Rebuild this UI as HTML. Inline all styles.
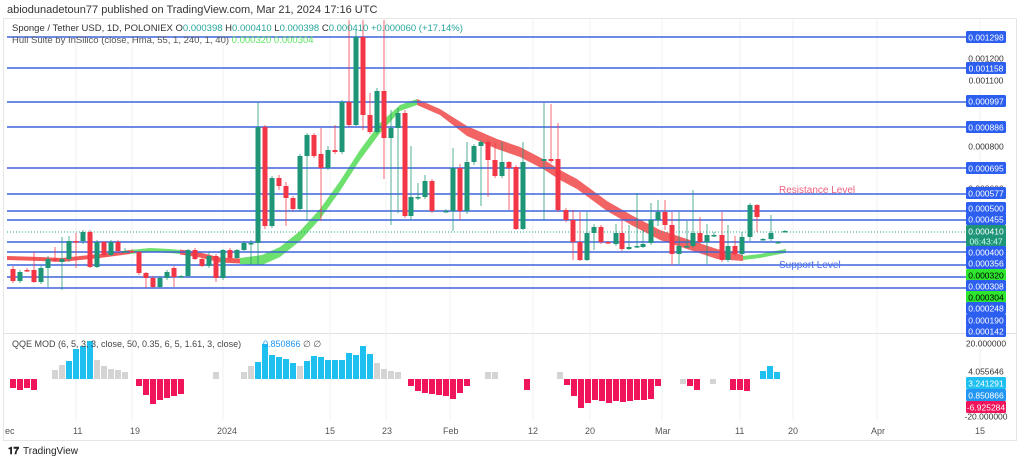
<!DOCTYPE html>
<html><head><meta charset="utf-8"><style>
body{margin:0;background:#fff;width:1024px;height:463px;overflow:hidden;font-family:"Liberation Sans",sans-serif}
svg{position:absolute;left:0;top:0}
</style></head><body>
<svg id="s" width="1024" height="463" xmlns="http://www.w3.org/2000/svg" font-family="Liberation Sans, sans-serif">
<text x="7" y="13" font-size="11" fill="#333">abiodunadetoun77 published on TradingView.com, Mar 21, 2024 17:16 UTC</text>
<rect x="3.5" y="18.5" width="1013" height="422" fill="none" stroke="#e6e6e6"/>
<line x1="4" y1="333.5" x2="1016" y2="333.5" stroke="#e0e0e0"/>
<g id="grid"></g>
<g id="hull"></g>
<g id="lines"></g>
<g id="candles"></g>
<g id="qqe"></g>
<g id="labels"></g>
<text x="12" y="31" font-size="9.5" fill="#333">Sponge / Tether USD, 1D, POLONIEX  O<tspan fill="#26a69a">0.000398</tspan>  H<tspan fill="#26a69a">0.000410</tspan>  L<tspan fill="#26a69a">0.000398</tspan>  C<tspan fill="#26a69a">0.000410</tspan>  <tspan fill="#26a69a">+0.000060 (+17.14%)</tspan></text>
<text x="12" y="43" font-size="9.5" fill="#555">Hull Suite by InSilico (close, Hma, 55, 1, 240, 1, 40)  <tspan fill="#5ee65e">0.000320  0.000304</tspan></text>
<text x="779" y="193" font-size="10" fill="#f06080">Resistance Level</text>
<text x="779" y="268" font-size="10" fill="#4a6cf0">Support Level</text>
<text x="12" y="347" font-size="9" fill="#444">QQE MOD (6, 5, 3, 3, close, 50, 0.35, 6, 5, 1.61, 3, close)</text>
<text x="263" y="347" font-size="9" fill="#2196f3">0.850866  <tspan fill="#555">∅  ∅</tspan></text>
<g font-size="9" fill="#555">
<text x="5" y="434">ec</text><text x="73" y="434">11</text><text x="130" y="434">19</text><text x="217" y="434">2024</text>
<text x="325" y="434">15</text><text x="382" y="434">23</text><text x="443" y="434">Feb</text><text x="528" y="434">12</text>
<text x="585" y="434">20</text><text x="655" y="434">Mar</text><text x="735" y="434">11</text><text x="788" y="434">20</text>
<text x="871" y="434">Apr</text><text x="975" y="434">15</text>
</g>
<text x="8" y="454" font-size="10" font-weight="bold" fill="#222">𝟏𝟕</text>
<text x="23" y="454" font-size="10" fill="#222">TradingView</text>
</svg>
<script>
const NS="http://www.w3.org/2000/svg";
function el(g,t,a){const e=document.createElementNS(NS,t);for(const k in a)e.setAttribute(k,a[k]);document.getElementById(g).appendChild(e);return e;}
[76,132,223,330,386,450,533,590,662,740,793,877,980].forEach(x=>{el("grid","line",{x1:x,y1:19,x2:x,y2:420,stroke:"#f1f1f1"});});
[37,68,102,127,168,194,211,220,242,252,265,277,288].forEach(y=>el("lines","line",{x1:7,y1:y,x2:966,y2:y,stroke:"#3d63dc","stroke-width":1.5}));
el("lines","line",{x1:7,y1:232,x2:966,y2:232,stroke:"#26a69a","stroke-dasharray":"1,2"});
// hull band
function band(pts,th,col){let top=pts.map(p=>p[0]+","+(p[1]-th(p)/2)).join(" ");let bot=pts.slice().reverse().map(p=>p[0]+","+(p[1]+th(p)/2)).join(" ");el("hull","polygon",{points:top+" "+bot,fill:col});}
band([[7,258],[40,259],[62,260],[80,258],[100,256],[130,252]],()=>4,"#f25a5a");
band([[130,252],[150,250],[170,251],[180,252]],()=>4,"#6ee06e");
band([[180,252],[200,255],[220,260],[240,261]],()=>5,"#f25a5a");
band([[240,261],[262,260],[280,252],[300,236],[320,214],[340,186],[360,155],[380,128],[400,108],[417,102]],p=>p[0]>260&&p[0]<400?10:6,"#6ee06e");
band([[417,102],[440,112],[467,131],[497,144],[520,152],[543,164],[560,175],[577,184],[607,206],[633,221],[660,235],[687,244],[717,254],[743,258]],p=>p[0]>440&&p[0]<720?10:6,"#f26464");
band([[743,258],[760,256],[775,253],[786,251]],()=>4,"#6ee06e");
// candles [x,o,c,h,l]  (y pixels)
const C=[[13,269,281,266,283],[20,281,272,270,283],[27,270,271,268,272],[34,270,282,252,283],[41,282,268,266,284],[48,268,259,256,287],[55,259,260,247,262],[62,262,259,237,290],[69,259,241,236,262],[76,241,242,233,268],[83,241,232,230,244],[90,232,267,230,268],[97,267,242,240,268],[104,242,255,241,257],[111,255,242,240,256],[118,242,251,240,252],[125,251,251,248,253],[132,251,252,249,253],[139,252,273,251,275],[146,273,278,272,288],[153,278,287,276,288],[160,287,278,276,288],[167,278,272,270,280],[174,268,277,266,287],[181,276,276,275,277],[188,276,250,249,277],[195,250,259,248,260],[202,259,266,258,267],[209,266,256,252,268],[216,256,278,254,282],[223,278,250,249,280],[230,250,258,248,261],[237,258,250,249,259],[244,250,243,241,251],[251,243,243,240,264],[258,243,127,102,265],[265,127,226,125,229],[272,226,178,176,228],[279,178,186,175,190],[286,186,198,182,226],[293,198,209,196,211],[300,209,156,154,211],[307,156,135,133,221],[314,135,156,133,158],[321,154,168,128,221],[328,168,150,146,170],[335,150,152,125,154],[342,152,102,100,154],[349,102,125,20,127],[356,125,37,30,126],[363,37,115,20,130],[370,115,132,93,134],[377,132,91,88,134],[384,91,138,20,179],[391,138,128,110,225],[398,128,113,108,213],[405,113,216,110,218],[411,216,197,146,220],[418,197,197,183,200],[425,197,181,175,199],[432,181,211,179,213],[446,211,211,209,212],[453,211,168,148,231],[460,168,211,164,220],[467,211,162,142,214],[474,162,146,144,165],[481,146,142,140,206],[488,142,160,140,197],[495,160,176,143,178],[502,176,162,142,178],[509,162,168,161,210],[516,167,229,165,230],[523,229,162,142,230],[544,161,159,103,220],[551,159,161,104,163],[558,159,210,123,212],[566,210,220,208,222],[573,220,242,210,260],[580,242,260,212,261],[587,260,233,212,261],[594,233,227,224,250],[601,227,242,225,244],[608,242,243,241,244],[616,244,233,224,246],[622,233,249,220,251],[629,249,247,225,250],[637,246,246,193,248],[643,247,244,230,248],[651,243,220,203,245],[658,220,212,200,226],[665,212,225,200,230],[672,225,254,212,265],[679,254,246,212,264],[687,246,246,221,248],[693,246,233,190,248],[700,233,242,217,244],[707,242,235,224,264],[714,235,235,232,237],[722,235,260,212,262],[728,260,246,225,262],[735,246,254,236,256],[742,254,237,232,256],[750,237,205,203,241],[757,205,217,204,232],[763,239,239,238,240],[771,239,233,215,241],[778,242,242,241,243],[785,231,231,230,232]];
C.forEach(([x,o,c,h,l])=>{const up=c<=o&&!(c==o);let col=c<o?"#1e9577":"#f23645";if(c==o)col="#1e9577";
el("candles","line",{x1:x,y1:h,x2:x,y2:l,stroke:col,"stroke-width":1,opacity:.75});
el("candles","rect",{x:x-2.5,y:Math.min(o,c),width:5,height:Math.max(1.5,Math.abs(o-c)),fill:col});});
// qqe
const B=379,G="#d4d4d4",U="#1ec0f0",R="#f0145a";
const Q=[[13,-9,R],[20,-11,R],[27,-9,R],[34,-11,R],[55,9,G],[62,14,G],[69,18,U],[76,30,U],[83,33,U],[90,38,U],[97,19,G],[104,13,G],[111,10,G],[118,9,G],[125,7,G],[139,-7,R],[146,-16,R],[153,-25,R],[160,-21,R],[167,-19,R],[174,-17,R],[181,-15,R],[216,7,G],[244,7,G],[251,13,G],[258,17,U],[265,35,U],[272,24,U],[279,22,U],[286,20,U],[293,16,U],[300,13,G],[307,18,U],[314,23,U],[321,22,U],[328,19,U],[335,19,U],[342,19,U],[349,26,U],[356,24,U],[363,33,U],[370,25,U],[377,16,G],[384,10,G],[391,8,G],[398,7,G],[411,-7,R],[418,-12,R],[425,-14,R],[432,-15,R],[439,-16,R],[446,-17,R],[453,-20,R],[460,-14,R],[467,-7,R],[488,7,G],[495,7,G],[527,-11,R],[560,7,G],[567,-6,R],[574,-17,R],[581,-29,R],[588,-24,R],[595,-21,R],[602,-22,R],[609,-24,R],[616,-22,R],[623,-23,R],[630,-22,R],[637,-21,R],[644,-21,R],[651,-20,R],[658,-7,R],[683,-5,G],[690,-7,R],[697,-11,R],[713,-5,G],[733,-11,R],[740,-11,R],[747,-12,R],[763,8,U],[770,13,U],[777,7,U]];
Q.forEach(([x,h,c])=>el("qqe","rect",{x:x-3,y:h>0?B-h:B,width:6,height:Math.abs(h),fill:c}));
// right labels
function lab(y,t,bg,fg){if(bg)el("labels","rect",{x:966,y:y-6,width:40,height:12,rx:1.5,fill:bg});const e=el("labels","text",{x:986,y:y+3.3,"font-size":8.5,fill:fg||"#fff","text-anchor":"middle"});e.textContent=t;}
const BL="#2c5ff0";
lab(58,"0.001200",null,"#333");lab(80,"0.001100",null,"#333");lab(146,"0.000800",null,"#333");lab(188,"0.000600",null,"#333");
lab(37,"0.001298",BL);lab(68,"0.001158",BL);lab(101,"0.000997",BL);lab(127,"0.000886",BL);lab(168,"0.000695",BL);lab(193,"0.000577",BL);
lab(208,"0.000500",BL);lab(219,"0.000455",BL);
el("labels","rect",{x:966,y:225,width:40,height:22,rx:1.5,fill:"#1e9577"});
lab(231,"0.000410",null,"#fff");lab(241,"06:43:47",null,"#cfe");
lab(252,"0.000400",BL);lab(263,"0.000356",BL);lab(275,"0.000320","#2ee62e","#000");lab(286,"0.000308",BL);lab(297,"0.000304","#2ee62e","#000");
lab(308,"0.000248",BL);lab(320,"0.000190",BL);lab(331,"0.000142",BL);
lab(343,"20.000000",null,"#333");lab(371,"4.055646",null,"#333");lab(383,"3.241291","#1ec0f0");lab(395,"0.850866","#2196f3");lab(407,"-6.925284","#f0145a");lab(416,"-20.000000",null,"#333");
</script>
</body></html>
